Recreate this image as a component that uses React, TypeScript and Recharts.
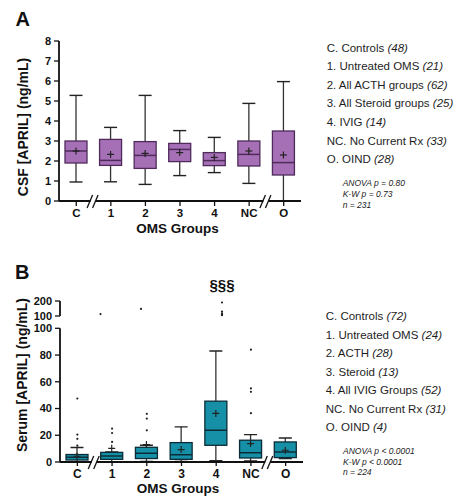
import React from 'react'
import { ComposedChart, Bar, Scatter, XAxis, YAxis } from 'recharts'

const groups = ['C', '1', '2', '3', '4', 'NC', 'O']
const breakBefore = ['1', 'O']

// A: CSF [APRIL] (ng/mL)
const csfMin = [0.95, 0.96, 0.83, 1.27, 1.42, 0.88, 0]
const csfQ1 = [1.9, 1.78, 1.63, 1.97, 1.77, 1.75, 1.3]
const csfMedian = [2.5, 2.03, 2.28, 2.58, 2.02, 2.33, 1.92]
const csfQ3 = [3.0, 3.08, 2.97, 2.88, 2.42, 3.0, 3.5]
const csfMax = [5.28, 3.68, 5.28, 3.52, 3.18, 4.88, 5.97]
const csfMean = [2.5, 2.33, 2.38, 2.42, 2.18, 2.5, 2.3]
const csfOutliers: number[][] = [[], [], [], [], [], [], []]
const csfTicks = [0, 1, 2, 3, 4, 5, 6, 7, 8]

const csfLegend = ['C. Controls', '1. Untreated OMS', '2. All ACTH groups', '3. All Steroid groups', '4. IVIG', 'NC. No Current Rx', 'O. OIND']
const csfCounts = ['(48)', '(21)', '(62)', '(25)', '(14)', '(33)', '(28)']
const csfStats = ['ANOVA p = 0.80', 'K-W p = 0.73', 'n = 231']

// B: Serum [APRIL] (ng/mL)
const serumMin = [0.3, 0.3, 0.5, 0.5, 1.0, 0.8, 2.5]
const serumQ1 = [1.5, 2.0, 2.6, 2.0, 12.5, 3.0, 3.3]
const serumMedian = [3.6, 4.5, 6.5, 5.5, 23.8, 7.0, 7.5]
const serumQ3 = [5.6, 7.2, 11.0, 14.5, 45.5, 16.3, 15.0]
const serumMax = [10.8, 7.5, 12.5, 26.3, 83, 20.5, 18]
const serumMean = [4.3, 10.2, 13, 9.3, 36.3, 13.8, 8.8]
const serumOutliers = [[47.5, 20.5, 17.3, 12.2], [25, 21.7, 15], [36, 32.5, 23.7], [], [], [84, 55, 52.5, 36.5], []]
const serumHighOutliers = [[], [113], [147], [], [190, 130, 118, 112, 108, 105], [], []]
const serumSig = ['', '', '', '', '§§§', '', '']
const serumLowTicks = [0, 20, 40, 60, 80, 100]
const serumHighTicks = [100, 200]

const serumLegend = ['C. Controls', '1. Untreated OMS', '2. ACTH', '3. Steroid', '4. All IVIG Groups', 'NC. No Current Rx', 'O. OIND']
const serumCounts = ['(72)', '(24)', '(28)', '(13)', '(52)', '(31)', '(4)']
const serumStats = ['ANOVA p < 0.0001', 'K-W p < 0.0001', 'n = 224']

const font = '"Liberation Sans", Arial, Helvetica, sans-serif'
const ink = '#111'
const outlierKeys = ['o0', 'o1', 'o2', 'o3', 'o4', 'o5']

function buildRows(min: number[], q1: number[], median: number[], q3: number[], max: number[], mean: number[], outliers: number[][], sig?: string[]) {
  return groups.map((group, i) => {
    const row: Record<string, any> = {
      group,
      whisker: [min[i], max[i]],
      q1: q1[i],
      median: median[i],
      q3: q3[i],
      mean: mean[i],
      sig: sig ? sig[i] : '',
    }
    outliers[i].forEach((v, j) => { row['o' + j] = v })
    return row
  })
}

const csfRows = buildRows(csfMin, csfQ1, csfMedian, csfQ3, csfMax, csfMean, csfOutliers)
const serumRows = buildRows(serumMin, serumQ1, serumMedian, serumQ3, serumMax, serumMean, serumOutliers)
const serumHighRows = groups.map((group, i) => {
  const row: Record<string, any> = { group, sig: serumSig[i] }
  serumHighOutliers[i].forEach((v, j) => { row['o' + j] = v })
  return row
})

// box drawn inside the whisker range bar; inner values interpolated on the bar's own pixel span
function makeBox(fill: string, stroke: string) {
  return (props: any) => {
    const { x, y, width, height, payload } = props
    if (!payload || x == null) return <g />
    const [lo, hi] = payload.whisker
    const top = Math.min(y, y + height)
    const bottom = Math.max(y, y + height)
    const k = (bottom - top) / (hi - lo)
    const py = (v: number) => bottom - (v - lo) * k
    const cx = x + width / 2
    const cap = 6.5
    return (
      <g>
        <line x1={cx} x2={cx} y1={py(hi)} y2={py(payload.q3)} stroke="#333" strokeWidth={1.3} />
        <line x1={cx} x2={cx} y1={py(payload.q1)} y2={py(lo)} stroke="#333" strokeWidth={1.3} />
        <line x1={cx - cap} x2={cx + cap} y1={py(hi)} y2={py(hi)} stroke="#222" strokeWidth={1.4} />
        <line x1={cx - cap} x2={cx + cap} y1={py(lo)} y2={py(lo)} stroke="#222" strokeWidth={1.4} />
        <rect x={x} y={py(payload.q3)} width={width} height={py(payload.q1) - py(payload.q3)} fill={fill} stroke={stroke} strokeWidth={1.3} />
        <line x1={x} x2={x + width} y1={py(payload.median)} y2={py(payload.median)} stroke={stroke} strokeWidth={1.5} />
        <line x1={cx - 3.5} x2={cx + 3.5} y1={py(payload.mean)} y2={py(payload.mean)} stroke="#222" strokeWidth={1.2} />
        <line x1={cx} x2={cx} y1={py(payload.mean) - 3.5} y2={py(payload.mean) + 3.5} stroke="#222" strokeWidth={1.2} />
      </g>
    )
  }
}

function makeDot(key: string) {
  return (props: any) => {
    const v = props.payload ? props.payload[key] : null
    if (v == null || props.cy == null || isNaN(props.cy)) return <g />
    return <circle cx={props.cx} cy={props.cy} r={1.1} fill="#222" />
  }
}

function makeGroupTick(gap: number, half: number, fontSize: number) {
  return (props: any) => {
    const { x, y, payload } = props
    const axisY = y - gap
    const bx = x - half
    return (
      <g>
        {breakBefore.includes(payload.value) && (
          <g>
            <rect x={bx - 3} y={axisY - 2} width={5} height={4} fill="#fff" />
            <line x1={bx - 6.5} y1={axisY + 7} x2={bx - 1} y2={axisY - 6} stroke={ink} strokeWidth={1.3} />
            <line x1={bx - 1} y1={axisY + 7} x2={bx + 4.5} y2={axisY - 6} stroke={ink} strokeWidth={1.3} />
          </g>
        )}
        <text x={x} y={y} dy="0.71em" textAnchor="middle" fontFamily={font} fontWeight="bold" fontSize={fontSize} fill={ink}>
          {payload.value}
        </text>
      </g>
    )
  }
}

const SigTick = (props: any) => {
  const { x, y, index } = props
  const label = serumHighRows[index] ? serumHighRows[index].sig : ''
  if (!label) return <g />
  return (
    <text x={x} y={y} textAnchor="middle" fontFamily={font} fontWeight="bold" fontSize={15} fill={ink}>
      {label}
    </text>
  )
}

const yTickStyle = { fontFamily: font, fontWeight: 'bold', fontSize: 11, fill: ink }

const Legend = ({ labels, counts, left, top, step }: any) => (
  <>
    {labels.map((t: string, i: number) => (
      <div key={t} style={{ position: 'absolute', left, top: top + i * step, fontSize: 11.5, lineHeight: '14px', color: '#1e1e1e', whiteSpace: 'nowrap' }}>
        {t} <i>{counts[i]}</i>
      </div>
    ))}
  </>
)

const Stats = ({ lines, left, top }: any) => (
  <>
    {lines.map((t: string, i: number) => (
      <div key={t} style={{ position: 'absolute', left, top: top + i * 10.8, fontSize: 8.5, lineHeight: '11px', fontStyle: 'italic', color: '#222', whiteSpace: 'nowrap' }}>
        {t}
      </div>
    ))}
  </>
)

const YTitle = ({ text, cx, cy }: any) => (
  <div style={{ position: 'absolute', left: cx, top: cy, transform: 'translate(-50%, -50%) rotate(-90deg)', fontSize: 14, fontWeight: 'bold', color: ink, whiteSpace: 'nowrap', lineHeight: '16px' }}>
    {text}
  </div>
)

const XTitle = ({ text, cx, cy }: any) => (
  <div style={{ position: 'absolute', left: cx, top: cy, transform: 'translate(-50%, -50%)', fontSize: 13.5, fontWeight: 'bold', color: ink, whiteSpace: 'nowrap', lineHeight: '16px' }}>
    {text}
  </div>
)

const Letter = ({ text, left, top }: any) => (
  <div style={{ position: 'absolute', left, top, fontSize: 20, fontWeight: 'bold', color: ink, lineHeight: '20px' }}>{text}</div>
)

const W = 310
const halfA = (W - 59 - 9) / groups.length / 2
const halfB = (W - 60 - 7) / groups.length / 2

export default function App() {
  const purpleBox = makeBox('#a670b7', '#4f2b5b')
  const tealBox = makeBox('#1690a7', '#0b2c36')

  return (
    <div style={{ position: 'absolute', left: 0, top: 0, width: 468, height: 501, background: '#fff', fontFamily: font, overflow: 'hidden' }}>
      {/* Panel A */}
      <div style={{ position: 'absolute', left: 0, top: 0 }}>
        <ComposedChart width={W} height={240} data={csfRows} margin={{ top: 41, right: 9, bottom: 19, left: 0 }}>
          <XAxis dataKey="group" type="category" allowDuplicatedCategory={false} interval={0} height={20}
            axisLine={{ stroke: ink, strokeWidth: 1.8 }} tickLine={{ stroke: ink, strokeWidth: 1.3 }} tickSize={5} tickMargin={3}
            tick={makeGroupTick(8, halfA, 11.5)} />
          <YAxis type="number" domain={[0, 8]} ticks={csfTicks} interval={0} width={59}
            axisLine={{ stroke: ink, strokeWidth: 1.8 }} tickLine={{ stroke: ink, strokeWidth: 1.3 }} tickSize={5} tickMargin={3}
            tick={yTickStyle} />
          <Bar dataKey="whisker" barSize={22} shape={purpleBox} isAnimationActive={false} />
          {outlierKeys.map((k) => (
            <Scatter key={k} dataKey={k} shape={makeDot(k)} isAnimationActive={false} />
          ))}
        </ComposedChart>
      </div>

      {/* Panel B lower segment */}
      <div style={{ position: 'absolute', left: 0, top: 240 }}>
        <ComposedChart width={W} height={261} data={serumRows} margin={{ top: 88.3, right: 7, bottom: 19, left: 0 }}>
          <XAxis dataKey="group" type="category" allowDuplicatedCategory={false} interval={0} height={20}
            axisLine={{ stroke: ink, strokeWidth: 1.8 }} tickLine={{ stroke: ink, strokeWidth: 1.3 }} tickSize={4} tickMargin={3}
            tick={makeGroupTick(7, halfB, 12)} />
          <YAxis type="number" domain={[0, 100]} ticks={serumLowTicks} interval={0} width={60} allowDataOverflow
            axisLine={{ stroke: ink, strokeWidth: 1.8 }} tickLine={{ stroke: ink, strokeWidth: 1.3 }} tickSize={5} tickMargin={3}
            tick={yTickStyle} />
          <Bar dataKey="whisker" barSize={22} shape={tealBox} isAnimationActive={false} />
          {outlierKeys.map((k) => (
            <Scatter key={k} dataKey={k} shape={makeDot(k)} isAnimationActive={false} />
          ))}
        </ComposedChart>
      </div>

      {/* Panel B upper segment (100-200) */}
      <div style={{ position: 'absolute', left: 0, top: 270 }}>
        <ComposedChart width={W} height={60} data={serumHighRows} margin={{ top: 11, right: 7, bottom: 14, left: 0 }}>
          <XAxis dataKey="group" type="category" orientation="top" allowDuplicatedCategory={false} interval={0} height={20}
            axisLine={false} tickLine={false} tickSize={6} tickMargin={5} tick={SigTick} />
          <YAxis type="number" domain={[100, 200]} ticks={serumHighTicks} interval={0} width={60}
            axisLine={{ stroke: ink, strokeWidth: 1.8 }} tickLine={{ stroke: ink, strokeWidth: 1.3 }} tickSize={5} tickMargin={3}
            tick={yTickStyle} />
          {outlierKeys.map((k) => (
            <Scatter key={k} dataKey={k} shape={makeDot(k)} isAnimationActive={false} />
          ))}
        </ComposedChart>
      </div>

      <Letter text="A" left={15.5} top={9.4} />
      <Letter text="B" left={15} top={262.4} />
      <YTitle text="CSF [APRIL] (ng/mL)" cx={22.7} cy={127} />
      <YTitle text="Serum [APRIL] (ng/mL)" cx={21.7} cy={375} />
      <XTitle text="OMS Groups" cx={177.5} cy={229} />
      <XTitle text="OMS Groups" cx={178} cy={489} />

      <Legend labels={csfLegend} counts={csfCounts} left={326.7} top={40.6} step={18.6} />
      <Stats lines={csfStats} left={342.7} top={178} />
      <Legend labels={serumLegend} counts={serumCounts} left={325.7} top={309} step={18.5} />
      <Stats lines={serumStats} left={343} top={445.7} />
    </div>
  )
}
